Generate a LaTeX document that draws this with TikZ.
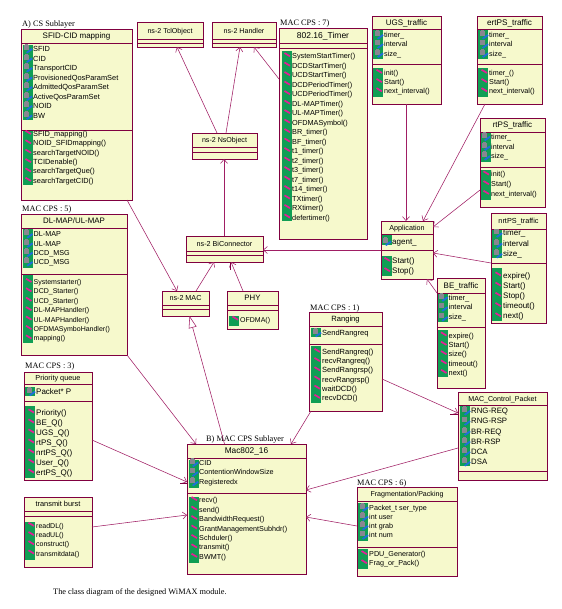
\documentclass[tikz,border=0pt]{standalone}
\usepackage{fontspec}
\setmainfont{Liberation Serif}
\newfontfamily\arial{Liberation Sans}
\usetikzlibrary{arrows.meta}
\definecolor{boxfill}{RGB}{246,249,204}
\definecolor{boxdraw}{RGB}{128,0,64}
\definecolor{conn}{RGB}{160,30,100}
\definecolor{stripgreen}{RGB}{16,158,84}
\definecolor{icongray}{RGB}{135,135,145}
\definecolor{iconblue}{RGB}{30,110,220}
\definecolor{iconmag}{RGB}{230,30,150}
\tikzset{
 cbox/.style={draw=boxdraw, fill=boxfill, line width=0.9pt, anchor=north west, inner sep=0pt, outer sep=0pt},
 boxline/.style={draw=boxdraw, line width=0.9pt},
 ttl/.style={inner sep=0pt, anchor=center, text=black, text height=5.4pt, text depth=0pt},
 item/.style={inner sep=0pt, anchor=west, text=black, text height=5.4pt, text depth=0pt},
 lbl/.style={inner sep=0pt, anchor=west, text=black, text height=5.6pt, text depth=0pt, font=\fontsize{8.3}{9}\selectfont},
 assoc/.style={draw=conn, line width=0.55pt, -{Straight Barb[length=4pt,width=7pt,line width=0.55pt]}},
 gen/.style={draw=conn, line width=0.55pt, -{Triangle[open,length=12pt,width=8pt,fill=white,line width=0.55pt]}},
 tickln/.style={draw=boxdraw, line width=0.9pt},
}
% #1 name, #2 x0, #3 y0, #4 x1, #5 y1, #6 line1, #7 line2, #8 title, #9 title size
\newcommand{\classbox}[9]{%
  \node[cbox, minimum width={(#4-#2)*1pt}, minimum height={(#5-#3)*1pt}] (#1) at (#2,#3) {};
  \draw[boxline] (#2,#6) -- (#4,#6);
  \draw[boxline] (#2,#7) -- (#4,#7);
  \node[ttl, font=\arial\fontsize{#9}{#9}\selectfont] (#1-t) at ({(#2+#4)/2},{(#3+#6)/2}) {#8};
}
\newcommand{\greenstrip}[3]{\fill[stripgreen] (#1,#2) rectangle ({#1+10},#3);}
\newcommand{\attricon}[2]{%
  \fill[icongray] ({#1-9.5},{#2-3.8}) rectangle ({#1-4.5},{#2+1.2});
  \fill[icongray] ({#1-8.5},{#2-4.6}) rectangle ({#1-5.5},{#2-3.5});
  \fill[iconblue] ({#1-7},{#2+3.2}) -- ({#1-1.5},{#2-0.8}) -- ({#1-0.3},{#2+0.6}) -- ({#1-5.6},{#2+4.4}) -- cycle;
}
\newcommand{\methicon}[2]{%
  \draw[iconmag, line width=1.7pt] ({#1-7.5},{#2-3}) -- ({#1-2},{#2+0.3});
}
% #1 prefix, #2 x text, #3 y start, #4 spacing, #5 size, #6 list
\newcommand{\attrs}[6]{%
  \foreach \itm [count=\i from 1] in {#6} {
    \pgfmathsetmacro{\yy}{#3+(\i-1)*#4}
    \attricon{#2}{\yy}
    \node[item, font=\arial\fontsize{#5}{#5}\selectfont] (#1-\i) at (#2,\yy) {\itm};
  }
}
\newcommand{\meths}[6]{%
  \foreach \itm [count=\i from 1] in {#6} {
    \pgfmathsetmacro{\yy}{#3+(\i-1)*#4}
    \methicon{#2}{\yy}
    \node[item, font=\arial\fontsize{#5}{#5}\selectfont] (#1-\i) at (#2,\yy) {\itm};
  }
}
\begin{document}
\begin{tikzpicture}[x=1pt,y=-1pt]
\useasboundingbox (0,0) rectangle (561,609);
\fill[white] (0,0) rectangle (561,609);

% ---------- labels ----------
\node[lbl] (lcs) at (22,24) {A) CS Sublayer};
\node[lbl] (l7) at (280,23) {MAC CPS : 7)};
\node[lbl] (l5) at (22,209) {MAC CPS : 5)};
\node[lbl] (l1) at (310,308) {MAC CPS : 1)};
\node[lbl] (l3) at (25,366) {MAC CPS : 3)};
\node[lbl] (l6) at (357,483) {MAC CPS : 6)};
\node[lbl] (lb) at (206,439) {B) MAC CPS Sublayer};
\node[lbl] (cap) at (53,592) {The class diagram of the designed WiMAX module.};

% ---------- SFID-CID mapping ----------
\classbox{cs}{21}{29}{132}{200}{43}{130}{SFID-CID mapping}{8}
\greenstrip{23}{45}{120}
\attrs{csa}{33}{49}{9.5}{7.4}{SFID,CID,TransportCID,ProvisionedQosParamSet,AdmittedQosParamSet,ActiveQosParamSet,NOID,BW}
\greenstrip{23}{131}{185}
\meths{csm}{33}{133.7}{9.4}{7.4}{SFID\_mapping(),NOID\_SFIDmapping(),searchTargetNOID(),TCIDenable(),searchTargetQue(),searchTargetCID()}

% ---------- ns-2 classes ----------
\classbox{tcl}{137}{22}{203}{47}{39}{43}{ns-2 TclObject}{7.1}
\classbox{handler}{212}{22}{276}{47}{39}{43}{ns-2 Handler}{7.1}
\classbox{nsobj}{192}{133}{257}{159}{147}{152}{ns-2 NsObject}{7.1}
\classbox{blcon}{186}{236}{263}{262}{251}{255}{ns-2 BiConnector}{7.2}
\classbox{nsmac}{162}{291}{209}{316}{305}{309}{ns-2 MAC}{7.2}
\classbox{phy}{227}{291}{278}{329}{305}{310}{PHY}{7.8}
\greenstrip{229}{315.5}{325.5}
\meths{phym}{240}{319.5}{9}{7}{OFDMA()}

% ---------- 802.16_Timer ----------
\classbox{timer}{279}{28}{367}{239}{43}{48}{802.16\_Timer}{8.5}
\greenstrip{281.5}{51.5}{221.5}
\meths{tm}{292}{56}{9.49}{7.3}{SystemStartTimer(),DCDStartTimer(),UCDStartTimer(),DCDPeriodTimer(),UCDPeriodTimer(),DL-MAPTimer(),UL-MAPTimer(),OFDMASymbol(),BR\_timer(),BF\_timer(),t1\_timer(),t2\_timer(),t3\_timer(),t7\_timer(),t14\_timer(),TXtimer(),RXtimer(),defertimer()}

% ---------- traffic classes ----------
\classbox{ugs}{372}{16}{441}{104}{29}{64}{UGS\_traffic}{8}
\greenstrip{373}{30}{59}
\attrs{ugsa}{384}{35}{9.2}{7.2}{timer\_,interval,size\_}
\greenstrip{373}{68}{97}
\meths{ugsm}{384}{72.7}{9.2}{7.2}{init(),Start(),next\_interval()}

\classbox{ertps}{477}{16}{542}{104}{29}{64}{ertPS\_traffic}{8.2}
\greenstrip{478}{30}{59}
\attrs{erta}{489}{35}{9.2}{7.2}{timer\_,interval,size\_}
\greenstrip{478}{68}{97}
\meths{ertm}{489}{72.7}{9.2}{7.2}{timer\_(),Start(),next\_interval()}

\classbox{rtps}{480}{118}{545}{207}{132}{167}{rtPS\_traffic}{8}
\greenstrip{481}{133}{162}
\attrs{rta}{491}{136.7}{9.7}{7.2}{timer\_,interval,size\_}
\greenstrip{481}{170}{200}
\meths{rtm}{491}{174.3}{9.7}{7.2}{init(),Start(),next\_interval()}

\classbox{app}{381}{221}{433}{279}{234}{250}{Application}{7.2}
\greenstrip{382}{235.5}{245}
\attrs{appa}{392}{241.5}{9}{8}{agent\_}
\greenstrip{382}{256}{276}
\meths{appm}{392}{260.7}{10.3}{8}{Start(),Stop()}

\classbox{nrtps}{491}{213}{546}{323}{229}{263}{nrtPS\_traffic}{7.3}
\greenstrip{492}{230}{258}
\attrs{nrta}{503}{233.3}{10.3}{8}{timer\_,interval,size\_}
\greenstrip{492}{268}{321}
\meths{nrtm}{503}{275.3}{10.2}{8}{expire(),Start(),Stop(),timeout(),next()}

\classbox{be}{437}{278}{485}{388}{293}{327}{BE\_traffic}{8}
\greenstrip{438}{293.5}{322}
\attrs{bea}{448.5}{297.3}{9.9}{7.4}{timer\_,interval,size\_}
\greenstrip{438}{330}{377}
\meths{bem}{448.5}{335.3}{9.35}{7.4}{expire(),Start(),size(),timeout(),next()}

% ---------- DL-MAP/UL-MAP ----------
\classbox{dlmap}{21}{214}{127}{355}{228}{274}{DL-MAP/UL-MAP}{7.9}
\greenstrip{23}{229}{268}
\attrs{dla}{33.5}{234}{9.35}{7.2}{DL-MAP,UL-MAP,DCD\_MSG,UCD\_MSG}
\greenstrip{23}{275}{343}
\meths{dlm}{33.5}{281.7}{9.43}{7}{Systemstarter(),DCD\_Starter(),UCD\_Starter(),DL-MAPHandler(),UL-MAPHandler(),OFDMASymboHandler(),mapping()}

% ---------- Ranging ----------
\classbox{ranging}{309}{312}{382}{411}{326}{344}{Ranging}{7.6}
\greenstrip{311}{327.5}{337}
\attrs{rga}{322}{332.7}{9}{7.5}{SendRangreq}
\greenstrip{311}{346}{403}
\meths{rgm}{322}{351.7}{9.2}{7.5}{SendRangreq(),recvRangreq(),SendRangrsp(),recvRangrsp(),waitDCD(),recvDCD()}

% ---------- MAC_Control_Packet ----------
\classbox{mcp}{458}{392}{547}{480}{405}{471}{MAC\_Control\_Packet}{7.1}
\greenstrip{460}{406}{466}
\attrs{mcpa}{471}{411}{10.2}{7.8}{RNG-REQ,RNG-RSP,BR-REQ,BR-RSP,DCA,DSA}

% ---------- Fragmentation/Packing ----------
\classbox{frag}{357}{487}{457}{576}{501}{547}{Fragmentation/Packing}{7.1}
\greenstrip{358}{502.5}{541}
\attrs{fra}{369}{507.3}{9.3}{7.2}{Packet\_t ser\_type,int user,int grab,int num}
\greenstrip{358}{548.5}{568.5}
\meths{frm}{369}{554}{9}{7.2}{PDU\_Generator(),Frag\_or\_Pack()}

% ---------- Priority queue ----------
\classbox{pq}{24}{372}{92}{480}{384}{401}{Priority queue}{7.3}
\greenstrip{25}{387}{396}
\attrs{pqa}{36}{391.7}{9}{8}{Packet* P}
\greenstrip{25}{406}{477.5}
\meths{pqm}{36}{412.3}{10}{8}{Priority(),BE\_Q(),UGS\_Q(),rtPS\_Q(),nrtPS\_Q(),User\_Q(),ertPS\_Q()}

% ---------- transmit burst ----------
\classbox{tb}{24}{497}{92}{567}{511}{516}{transmit burst}{7.4}
\greenstrip{25}{522}{560}
\meths{tbm}{36}{525.7}{9.2}{7}{readDL(),readUL(),construct(),transmitdata()}

% ---------- Mac802_16 ----------
\classbox{mac}{187}{444}{306}{574}{458}{493}{Mac802\_16}{8.3}
\greenstrip{189}{459.5}{487.5}
\attrs{maca}{199}{462.6}{9.6}{7.2}{CID,ContentionWindowSize,Registeredx}
\greenstrip{189}{497}{563}
\meths{macm}{199}{500}{9.45}{7.2}{recv(),send(),BandwidthRequest(),GrantManagementSubhdr(),Schduler(),transmit(),BWMT()}

% ---------- connectors ----------
\draw[assoc] ([xshift=25pt]nsobj.north west) -- ([xshift=40pt]tcl.south west);
\draw[assoc] ([xshift=34pt]nsobj.north west) -- ([xshift=28pt]handler.south west);
\draw[assoc] ([yshift=-51pt]timer.north west) -- ([xshift=42pt]handler.south west);
\draw[assoc] ([xshift=38pt]blcon.north west) -- ([xshift=32pt]nsobj.south west);
\draw[assoc] ([xshift=34pt]nsmac.north west) -- ([xshift=28pt]blcon.south west);
\draw[assoc] ([xshift=16pt]phy.north west) -- ([xshift=45pt]blcon.south west);
\draw[tickln] ([xshift=44pt]blcon.south west) -- ++(0,8);
\draw[assoc] ([yshift=-29pt]app.north west) -- ([yshift=-14pt]blcon.north east);
\draw[assoc] ([xshift=-5pt]cs.south east) -- ([xshift=15pt]nsmac.north west);
\draw[assoc] (dlmap.south east) -- ([xshift=9pt]mac.north west);
\draw[gen] ([xshift=37.5pt]mac.north west) -- ([xshift=27.5pt]nsmac.south west);
\draw[assoc] ([xshift=2pt]ranging.south west) -- ([xshift=104pt]mac.north west);
\draw[assoc] ([yshift=-68pt]pq.north east) -- ([yshift=-38pt]mac.north west);
\draw[tickln] ([yshift=-39pt]mac.north west) -- ++(-7,0);
\draw[assoc] ([yshift=-30pt]tb.north east) -- ([yshift=-71pt]mac.north west);
\draw[assoc] ([yshift=-56pt]mcp.north west) -- ([yshift=-46pt]mac.north east);
\draw[assoc] ([yshift=-39pt]frag.north west) -- ([yshift=-73pt]mac.north east);
\draw[assoc] ([yshift=-67pt]ranging.north east) -- ([yshift=-21pt]mcp.north west);
\draw[tickln] ([yshift=-22pt]mcp.north west) -- ++(-8,0);
\draw[assoc] ([xshift=34pt]ugs.south west) -- ([xshift=25pt]app.north west);
\draw[assoc] ([xshift=8pt]ertps.south west) -- ([xshift=42pt]app.north west);
\draw[assoc] ([yshift=-72pt]rtps.north west) -- ([yshift=-6pt]app.north east);
\draw[assoc] ([yshift=-50pt]nrtps.north west) -- ([yshift=-32pt]app.north east);
\draw[assoc] ([yshift=-15pt]be.north west) -- ([xshift=46pt]app.south west);
\end{tikzpicture}
\end{document}
